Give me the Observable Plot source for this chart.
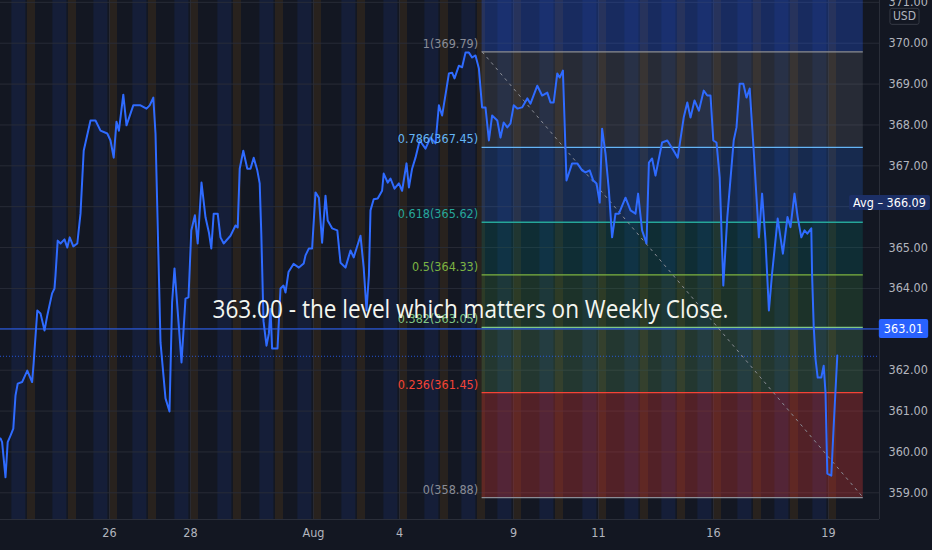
<!DOCTYPE html>
<html>
<head>
<meta charset="utf-8">
<script src="https://cdn.jsdelivr.net/npm/d3@7"></script>
<script src="https://cdn.jsdelivr.net/npm/@observablehq/plot@0.6"></script>
<style>
html, body { margin: 0; padding: 0; background: #131722; }
#chart { width: 932px; height: 550px; overflow: hidden; }
</style>
</head>
<body>
<div id="chart"></div>
<script>
// ---- DATA ----
// trading-time position (bar units) and price of the line
const t = [0,0.4,1.25,1.8,2.5,3.2,3.75,4.3,5.4,6.7,7.9,8.3,9.2,10,11,11.7,12.9,13.5,13.75,14.3,15,16,16.7,17.3,18.2,19.2,20,20.8,22.5,23.75,25,26.7,27.5,28.3,29,29.6,30.7,31.5,33.2,35,36.5,37.3,38.2,38.75,40,41.25,42.25,42.9,43.5,45.25,46.25,47,47.7,48.6,49.3,50.25,51.25,52.1,52.7,53.3,54.3,55,55.8,57.5,58.75,59.3,59.8,60.7,61.7,62.5,63.3,64.2,64.8,65.2,65.75,66.5,67.1,67.5,67.9,69.25,70,70.75,71.25,72,73.25,74.6,75.8,76.25,77.1,77.9,78.75,79.6,80.4,81.25,81.8,82.9,84.2,85,86.25,87.5,88.3,90,90.8,91.5,92.1,92.5,93.3,94.3,95.4,95.8,96.8,97.5,98.5,99.6,100.4,101.5,102.1,102.9,103.75,104.8,106.25,107.5,108.75,109.6,110.4,111.5,112.1,112.9,113.5,114.6,115.4,116.25,117.1,117.9,118.75,119.6,120.4,121.25,122.1,122.9,124.2,125,125.8,126.7,127.5,128.3,129.2,130.4,131.7,132.5,134.2,135.4,136.7,137.5,138.3,139.2,139.8,140.6,141.5,142.9,144.2,145.4,146.25,147.3,148.2,149,149.8,150.4,151.25,152.1,152.9,153.75,154.6,156.25,157.5,158.75,159.4,160.4,161.5,162.1,162.9,163.75,165.4,166.7,168.3,169.3,170.8,171.7,172.5,173.5,174.6,175.8,176.7,177.5,178.2,179,179.8,180.7,181.7,183.3,184,184.8,185.7,186.5,187.3,188.3,189.6,190.4,191.25,192.1,192.9,194.3,195.6,196.75,197.5,198.5,199.3,200.2,201,201.7,202.7,202.9,203.3,203.75,204.3,205.2,205.8,206.25,206.7,207.7,208.3,209.2];
const close = [360.33,360.24,359.38,360.24,360.40,360.57,361.38,361.67,361.71,361.99,361.71,362.19,363.46,363.39,362.97,363.34,363.88,364.00,364.32,365.17,365.10,365.20,365.00,365.25,365.03,365.10,365.83,367.37,368.11,368.11,367.86,367.79,367.62,367.20,368.08,367.86,368.74,367.99,368.48,368.48,368.40,368.48,368.67,367.79,362.68,361.31,360.99,363.66,364.49,362.19,363.75,363.78,365.42,365.79,365.10,366.59,365.74,365.37,364.98,365.83,365.83,365.25,365.10,365.29,365.54,365.49,366.93,367.37,366.93,366.93,367.20,366.89,366.57,365.34,363.2,362.6,362.9,363.5,362.53,362.53,364.0,364.07,363.9,364.4,364.6,364.51,364.61,364.81,364.98,364.98,366.35,366.22,365.12,366.27,365.66,365.47,365.42,364.63,364.51,364.93,364.76,365.29,364.51,363.46,364.32,365.91,366.18,366.20,366.39,366.81,366.59,366.69,366.44,366.57,366.39,367.06,366.47,366.93,367.20,367.62,367.42,367.69,367.55,368.48,368.23,368.89,369.26,369.28,369.14,369.45,369.41,369.77,369.77,369.65,369.70,369.38,368.43,368.43,367.62,368.23,368.11,367.69,368.06,367.94,368.04,368.48,368.40,368.43,368.65,368.52,368.96,368.72,368.79,368.55,368.55,369.26,369.16,369.33,366.64,367.06,367.06,366.89,366.84,366.89,366.64,366.57,366.10,367.91,367.30,366.39,365.25,365.83,365.83,366.22,365.91,365.83,366.32,365.42,365.10,367.08,367.18,366.76,367.57,367.62,367.37,367.20,368.18,368.55,368.18,368.60,368.35,368.84,368.72,368.72,367.62,367.57,366.71,364.07,365.74,367.62,367.94,369.01,369.01,368.67,368.89,367.37,365.25,366.32,365.17,363.46,364.37,365.71,364.85,365.75,365.50,366.32,365.74,365.25,365.42,365.34,365.47,364.32,363.09,362.28,361.82,361.82,362.11,361.45,359.47,359.42,360.64,362.36];

// session starts (same trading-time units) and their day names
const dayStart = [-3.5,6.75,17,27.25,37,47.5,58.25,68.75,78.25,89.25,99.75,110,119.25,128.25,138.75,149.5,160,169.25,178.25,188.25,197.5,207];
const dayName  = ["21","22","23","26","27","28","29","30","Aug","3","4","5","6","9","10","11","12","13","16","17","18","19"];
const shownTicks = ["26","28","Aug","4","9","11","16","19"];

// Fibonacci retracement
const fibRatio  = [1, 0.786, 0.618, 0.5, 0.382, 0.236, 0];
const fibPrice  = [369.79, 367.45, 365.62, 364.33, 363.05, 361.45, 358.88];
const fibColor  = ["#8a8d96", "#64b5f6", "#26a69a", "#7cb342", "#81c784", "#f44336", "#8a8d96"];
const fibFill   = ["#787b86", "#2979ff", "#00897b", "#43a047", "#66bb6a", "#e53935"];
const fibStartT = 120.4, fibEndT = 215.7;

const yTicks = d3.range(359, 372);
const hiddenYLabels = [363, 366];   // covered by the price tags in the reference
const levelPrice = 363.01;   // horizontal level line
const lastPrice  = 362.34;   // last price (dotted)
const avgPrice   = 366.09;
const note = "363.00 - the level which matters on Weekly Close.";
const noteAt = {t: 117.5, price: 363.48};

// ---- build tables ----
const series = t.map((x, i) => ({t: x, price: close[i]}));
const orange = dayStart.map(d => ({x1: d, x2: d + 2}));
const blue = dayStart.slice(1).map(d => ({x1: d - 3.9, x2: d - 0.4}));
const tickT = shownTicks.map(s => dayStart[dayName.indexOf(s)]);
const tickMap = new Map(tickT.map((v, i) => [v, shownTicks[i]]));
const fib = fibRatio.map((r, i) => ({r, price: fibPrice[i], color: fibColor[i]}));
const bands = fibFill.map((c, i) => ({y1: fibPrice[i + 1], y2: fibPrice[i], fill: c, op: i === 5 ? 0.3 : 0.2}));
const yLabelTicks = yTicks.filter(v => !hiddenYLabels.includes(v));

const yDomain = [358.347, 371.045];
const xDomain = [0, 219.75];
const FONT = "'Liberation Sans Narrow', 'DejaVu Sans Condensed', 'Liberation Sans', sans-serif";

const avgText = `Avg – ${avgPrice.toFixed(2)}`;
const levelText = levelPrice.toFixed(2);

const chart = Plot.plot({
  width: 932,
  height: 550,
  marginLeft: 0,
  marginRight: 53,
  marginTop: 0,
  marginBottom: 31,
  style: {background: "#131722", color: "#b2b5be", fontFamily: FONT, fontSize: "12px"},
  x: {domain: xDomain, axis: null},
  y: {domain: yDomain, axis: null},
  color: {type: "identity"},
  marks: [
    // session backgrounds
    Plot.rect(orange, {x1: "x1", x2: "x2", fill: "#ff9800", fillOpacity: 0.09}),
    Plot.rect(blue, {x1: "x1", x2: "x2", fill: "#2962ff", fillOpacity: 0.1}),
    // grid
    Plot.ruleY(yTicks, {stroke: "#2a2e39", strokeOpacity: 0.9}),
    Plot.ruleX(tickT, {stroke: "#2a2e39", strokeOpacity: 0.7}),
    // fib zone above level 1
    Plot.rect([fibPrice[0]], {x1: () => fibStartT, x2: () => fibEndT, y1: d => d, y2: () => yDomain[1], fill: "#2962ff", fillOpacity: 0.28}),
    // fib bands
    Plot.rect(bands, {x1: () => fibStartT, x2: () => fibEndT, y1: "y1", y2: "y2", fill: "fill", fillOpacity: d => d.op}),
    // level line 363.01 and last price
    Plot.ruleY([levelPrice], {stroke: "#2962ff", strokeWidth: 1}),
    Plot.ruleY([lastPrice], {stroke: "#2962ff", strokeWidth: 1, strokeDasharray: "1,2", strokeOpacity: 0.8}),
    // fib level lines
    Plot.ruleY(fib, {y: "price", x1: () => fibStartT, x2: () => fibEndT, stroke: "color", strokeWidth: 1.3}),
    // diagonal trend of the fib tool
    Plot.link([0], {x1: () => fibStartT, y1: () => fibPrice[0], x2: () => fibEndT, y2: () => fibPrice[6], stroke: "#8a8d96", strokeDasharray: "3,4", strokeWidth: 1}),
    // price line
    Plot.line(series, {x: "t", y: "price", stroke: "#2f6bff", strokeWidth: 2, curve: "linear"}),
    // fib labels
    Plot.text(fib, {x: () => fibStartT, y: "price", text: d => `${d.r}(${d.price.toFixed(2)})`, fill: "color", textAnchor: "end", dx: -4, dy: -8, fontSize: 12.5}),
    // note
    Plot.text([note], {x: () => noteAt.t, y: () => noteAt.price, text: d => d, fill: "#f4f6f0", fontSize: 25, fontFamily: "'Open Sans', sans-serif", textAnchor: "middle"}),
    // axes
    Plot.axisY(yLabelTicks, {anchor: "right", tickSize: 0, tickPadding: 9, tickFormat: d => d.toFixed(2), fill: "#b2b5be", fontSize: 12.5, label: null}),
    Plot.axisX(tickT, {anchor: "bottom", tickSize: 0, tickPadding: 9, tickFormat: d => tickMap.get(d), fill: "#b2b5be", fontSize: 12.5, label: null}),
    Plot.ruleX([xDomain[1]], {stroke: "#2a2e39"}),
    Plot.ruleY([yDomain[0]], {stroke: "#2a2e39"}),
    // price tags on axis
    Plot.text([avgText], {y: () => avgPrice, text: d => d, frameAnchor: "right", dx: 10, fill: "#ffffff", fontSize: 12.5, textAnchor: "middle"}),
    Plot.text([levelText], {y: () => levelPrice, text: d => d, frameAnchor: "right", dx: 24, fill: "#ffffff", fontSize: 12.5, textAnchor: "middle"}),
    Plot.text(["USD"], {y: () => yDomain[1], text: d => d, frameAnchor: "right", dx: 25, dy: 16, fill: "#b2b5be", fontSize: 12, textAnchor: "middle"})
  ]
});

document.getElementById("chart").appendChild(chart);

const allTexts = Array.from(chart.querySelectorAll("text"));
function findText(s) { return allTexts.filter(el => el.textContent === s); }

// boxes behind tag texts
function boxify(s, fill, stroke, padX, padY) {
  findText(s).forEach(el => {
    const b = el.getBBox();
    const r = document.createElementNS("http://www.w3.org/2000/svg", "rect");
    r.setAttribute("x", b.x - padX);
    r.setAttribute("y", b.y - padY);
    r.setAttribute("width", b.width + 2 * padX);
    r.setAttribute("height", b.height + 2 * padY);
    r.setAttribute("rx", 2);
    r.setAttribute("fill", fill);
    if (stroke) r.setAttribute("stroke", stroke);
    if (el.getAttribute("transform")) r.setAttribute("transform", el.getAttribute("transform"));
    el.parentNode.insertBefore(r, el);
  });
}
boxify(avgText, "#1c2f66", null, 4, 0);
boxify(levelText, "#2962ff", null, 5, 2);
boxify("USD", "#131722", "#363a45", 3, 1);

findText(note).forEach(el => {
  el.setAttribute("textLength", 516);
  el.setAttribute("lengthAdjust", "spacingAndGlyphs");
});
</script>
</body>
</html>
